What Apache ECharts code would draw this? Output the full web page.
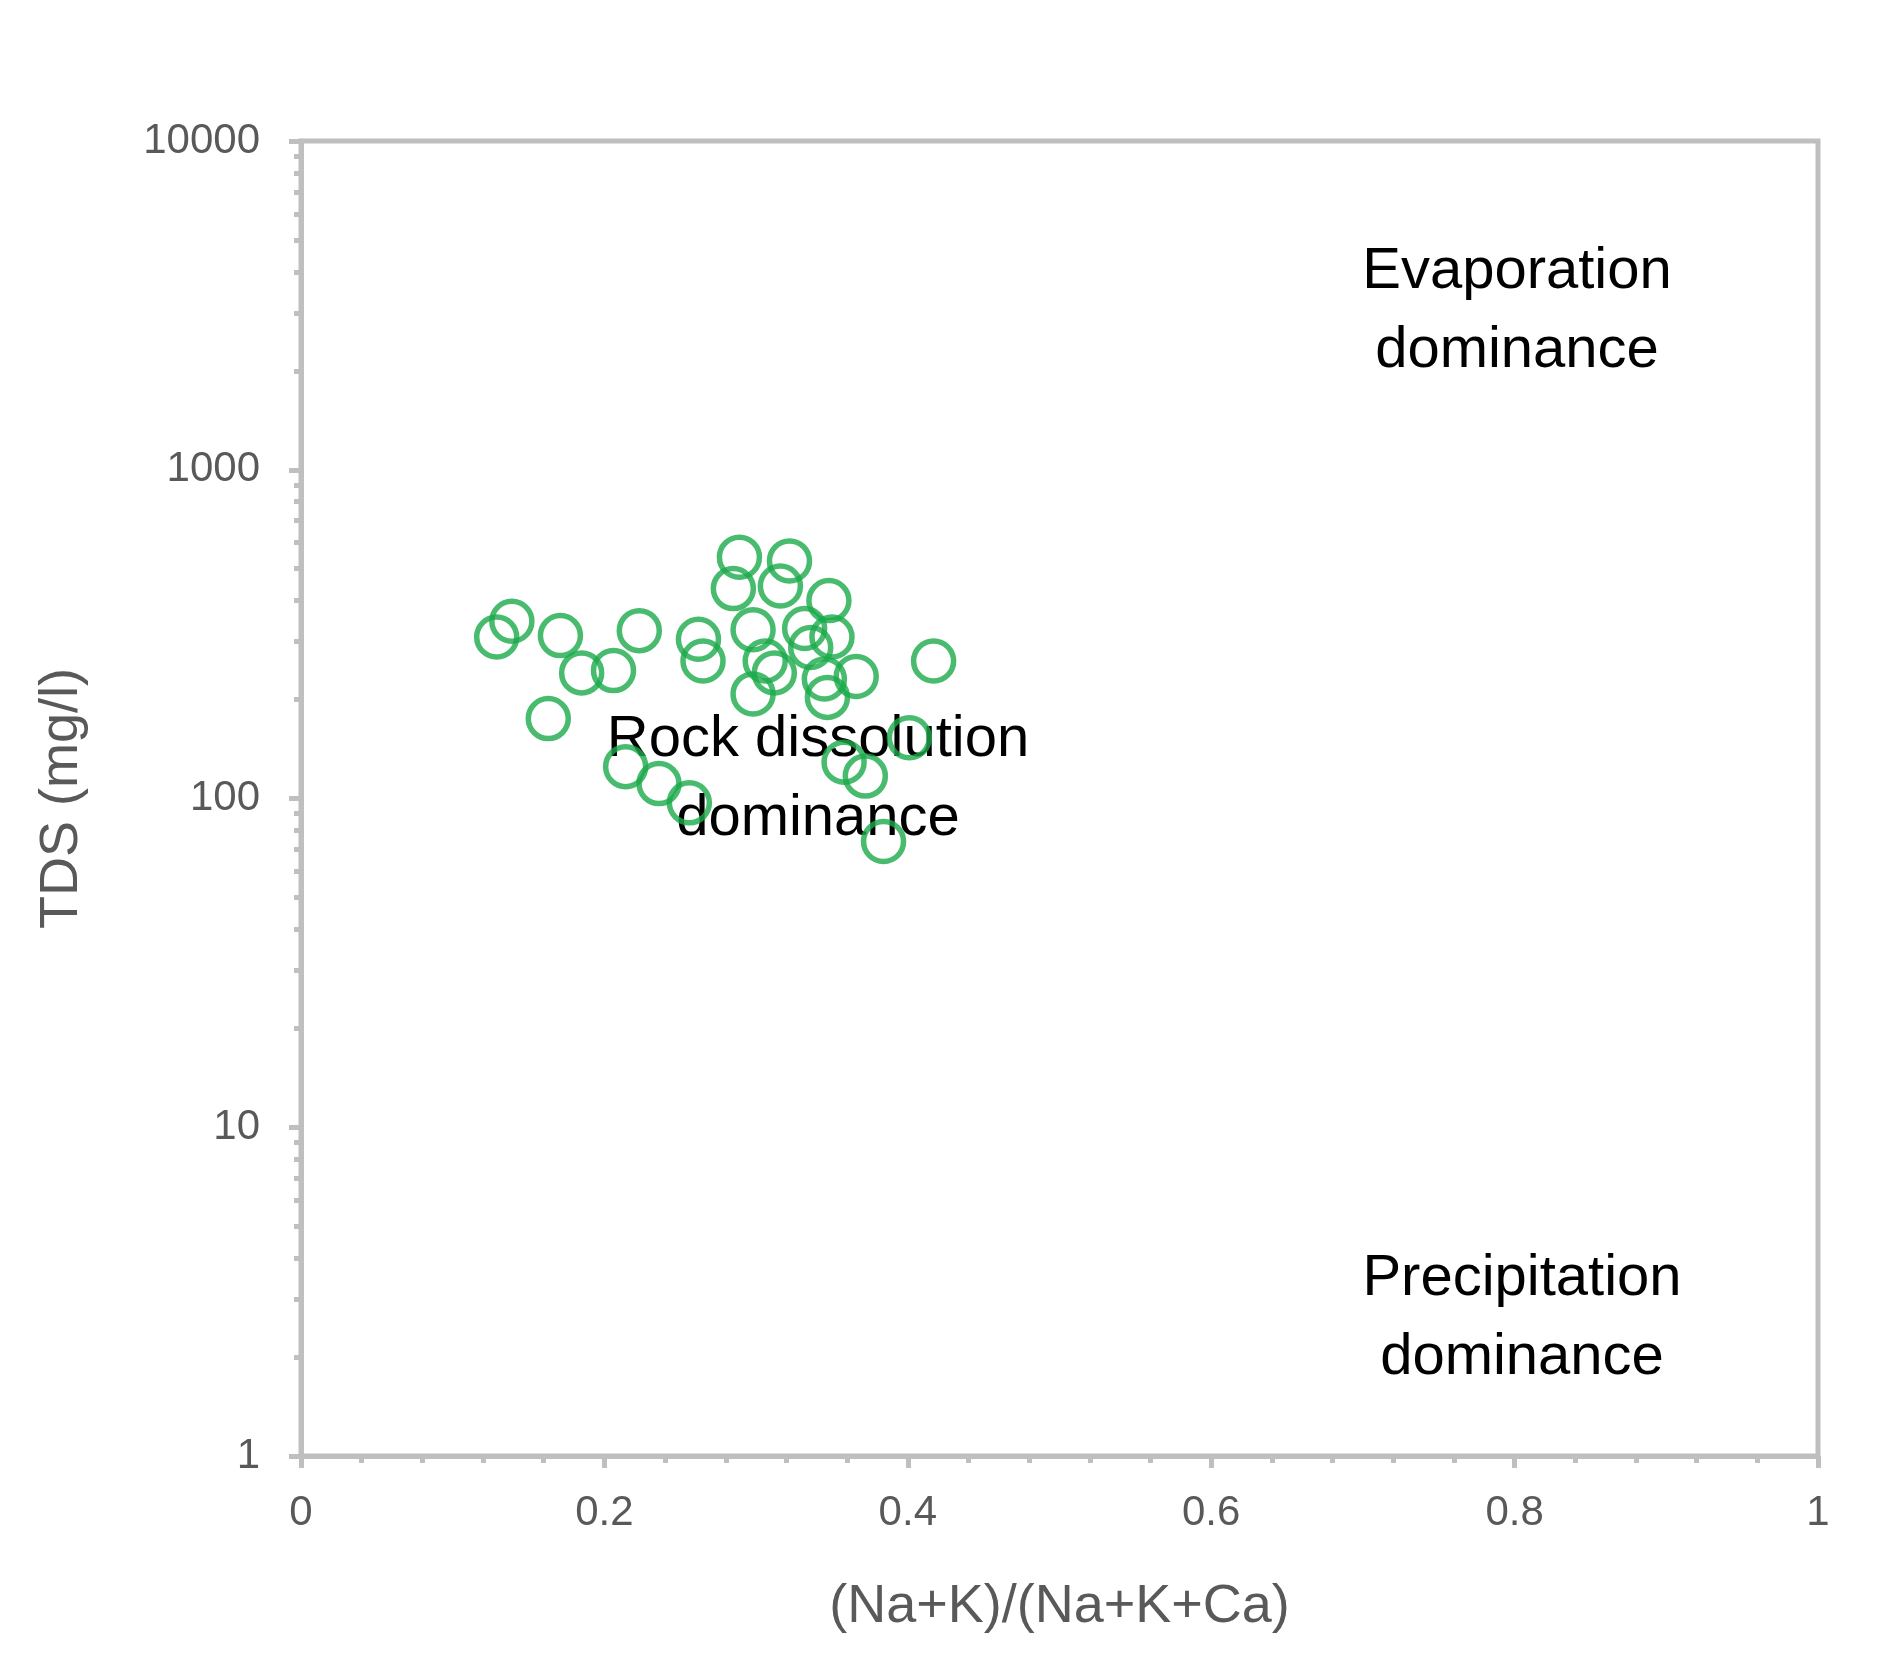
<!DOCTYPE html>
<html>
<head>
<meta charset="utf-8">
<script src="https://cdn.jsdelivr.net/npm/echarts@6/dist/echarts.min.js"></script>
<style>html,body{margin:0;padding:0;background:#fff}#chart{width:1890px;height:1653px}</style>
</head>
<body>
<div id="chart"></div>
<script>
// ratio (Na+K)/(Na+K+Ca) and TDS (mg/l)
const ratio = [0.129, 0.139, 0.171, 0.185, 0.206, 0.223, 0.163, 0.214, 0.236, 0.256,
  0.262, 0.265, 0.289, 0.285, 0.298, 0.306, 0.312, 0.298, 0.322, 0.316,
  0.332, 0.336, 0.348, 0.350, 0.345, 0.347, 0.366, 0.417, 0.401, 0.358, 0.372, 0.384];
const tds = [310, 346, 313, 241, 245, 324, 175, 125, 111, 97,
  305, 262, 542, 435, 326, 262, 241, 208, 528, 443,
  329, 288, 400, 310, 231, 203, 235, 262, 153, 129, 117, 74];

let myChart = echarts.init(document.getElementById("chart"));
const font = "Liberation Sans, Arial, sans-serif";
const grey = "#bfbfbf";

function note(x, y, lines) {
  return {
    type: "text", x: x, y: y,
    style: { text: lines.join("\n"), font: "58px " + font, fill: "#000", align: "center", lineHeight: 79 }
  };
}

let option = {
  animation: false,
  grid: { left: 301, right: 72, top: 141, bottom: 197, show: true, borderColor: grey, borderWidth: 5 },
  xAxis: {
    type: "value", min: 0, max: 1, interval: 0.2,
    name: "(Na+K)/(Na+K+Ca)", nameLocation: "middle", nameGap: 124,
    nameTextStyle: { fontSize: 54, color: "#595959", fontFamily: font },
    axisLine: { lineStyle: { color: grey, width: 5 } },
    axisTick: { length: 12, lineStyle: { color: grey, width: 5 } },
    minorTick: { show: true, splitNumber: 5, length: 7, lineStyle: { color: grey, width: 5 } },
    axisLabel: { fontSize: 42, color: "#595959", fontFamily: font, margin: 36 },
    splitLine: { show: false }
  },
  yAxis: {
    type: "log", logBase: 10, min: 1, max: 10000,
    name: "TDS (mg/l)", nameLocation: "middle", nameGap: 212,
    nameTextStyle: { fontSize: 54, color: "#595959", fontFamily: font },
    axisLine: { lineStyle: { color: grey, width: 5 } },
    axisTick: { length: 12, lineStyle: { color: grey, width: 5 } },
    minorTick: { show: true, splitNumber: 9, length: 7, lineStyle: { color: grey, width: 5 } },
    axisLabel: { fontSize: 42, color: "#595959", fontFamily: font, margin: 41, formatter: v => String(v) },
    splitLine: { show: false }
  },
  graphic: [
    note(1517, 232, ["Evaporation", "dominance"]),
    note(818, 700, ["Rock dissolution", "dominance"]),
    note(1522, 1239, ["Precipitation", "dominance"])
  ],
  series: [{
    type: "scatter",
    symbol: "circle",
    symbolSize: 40,
    itemStyle: { color: "transparent", borderColor: "#1aaa4a", borderWidth: 5.5 },
    data: ratio.map((r, i) => [r, tds[i]]),
    z: 1
  }]
};
myChart.setOption(option);
</script>
</body>
</html>
